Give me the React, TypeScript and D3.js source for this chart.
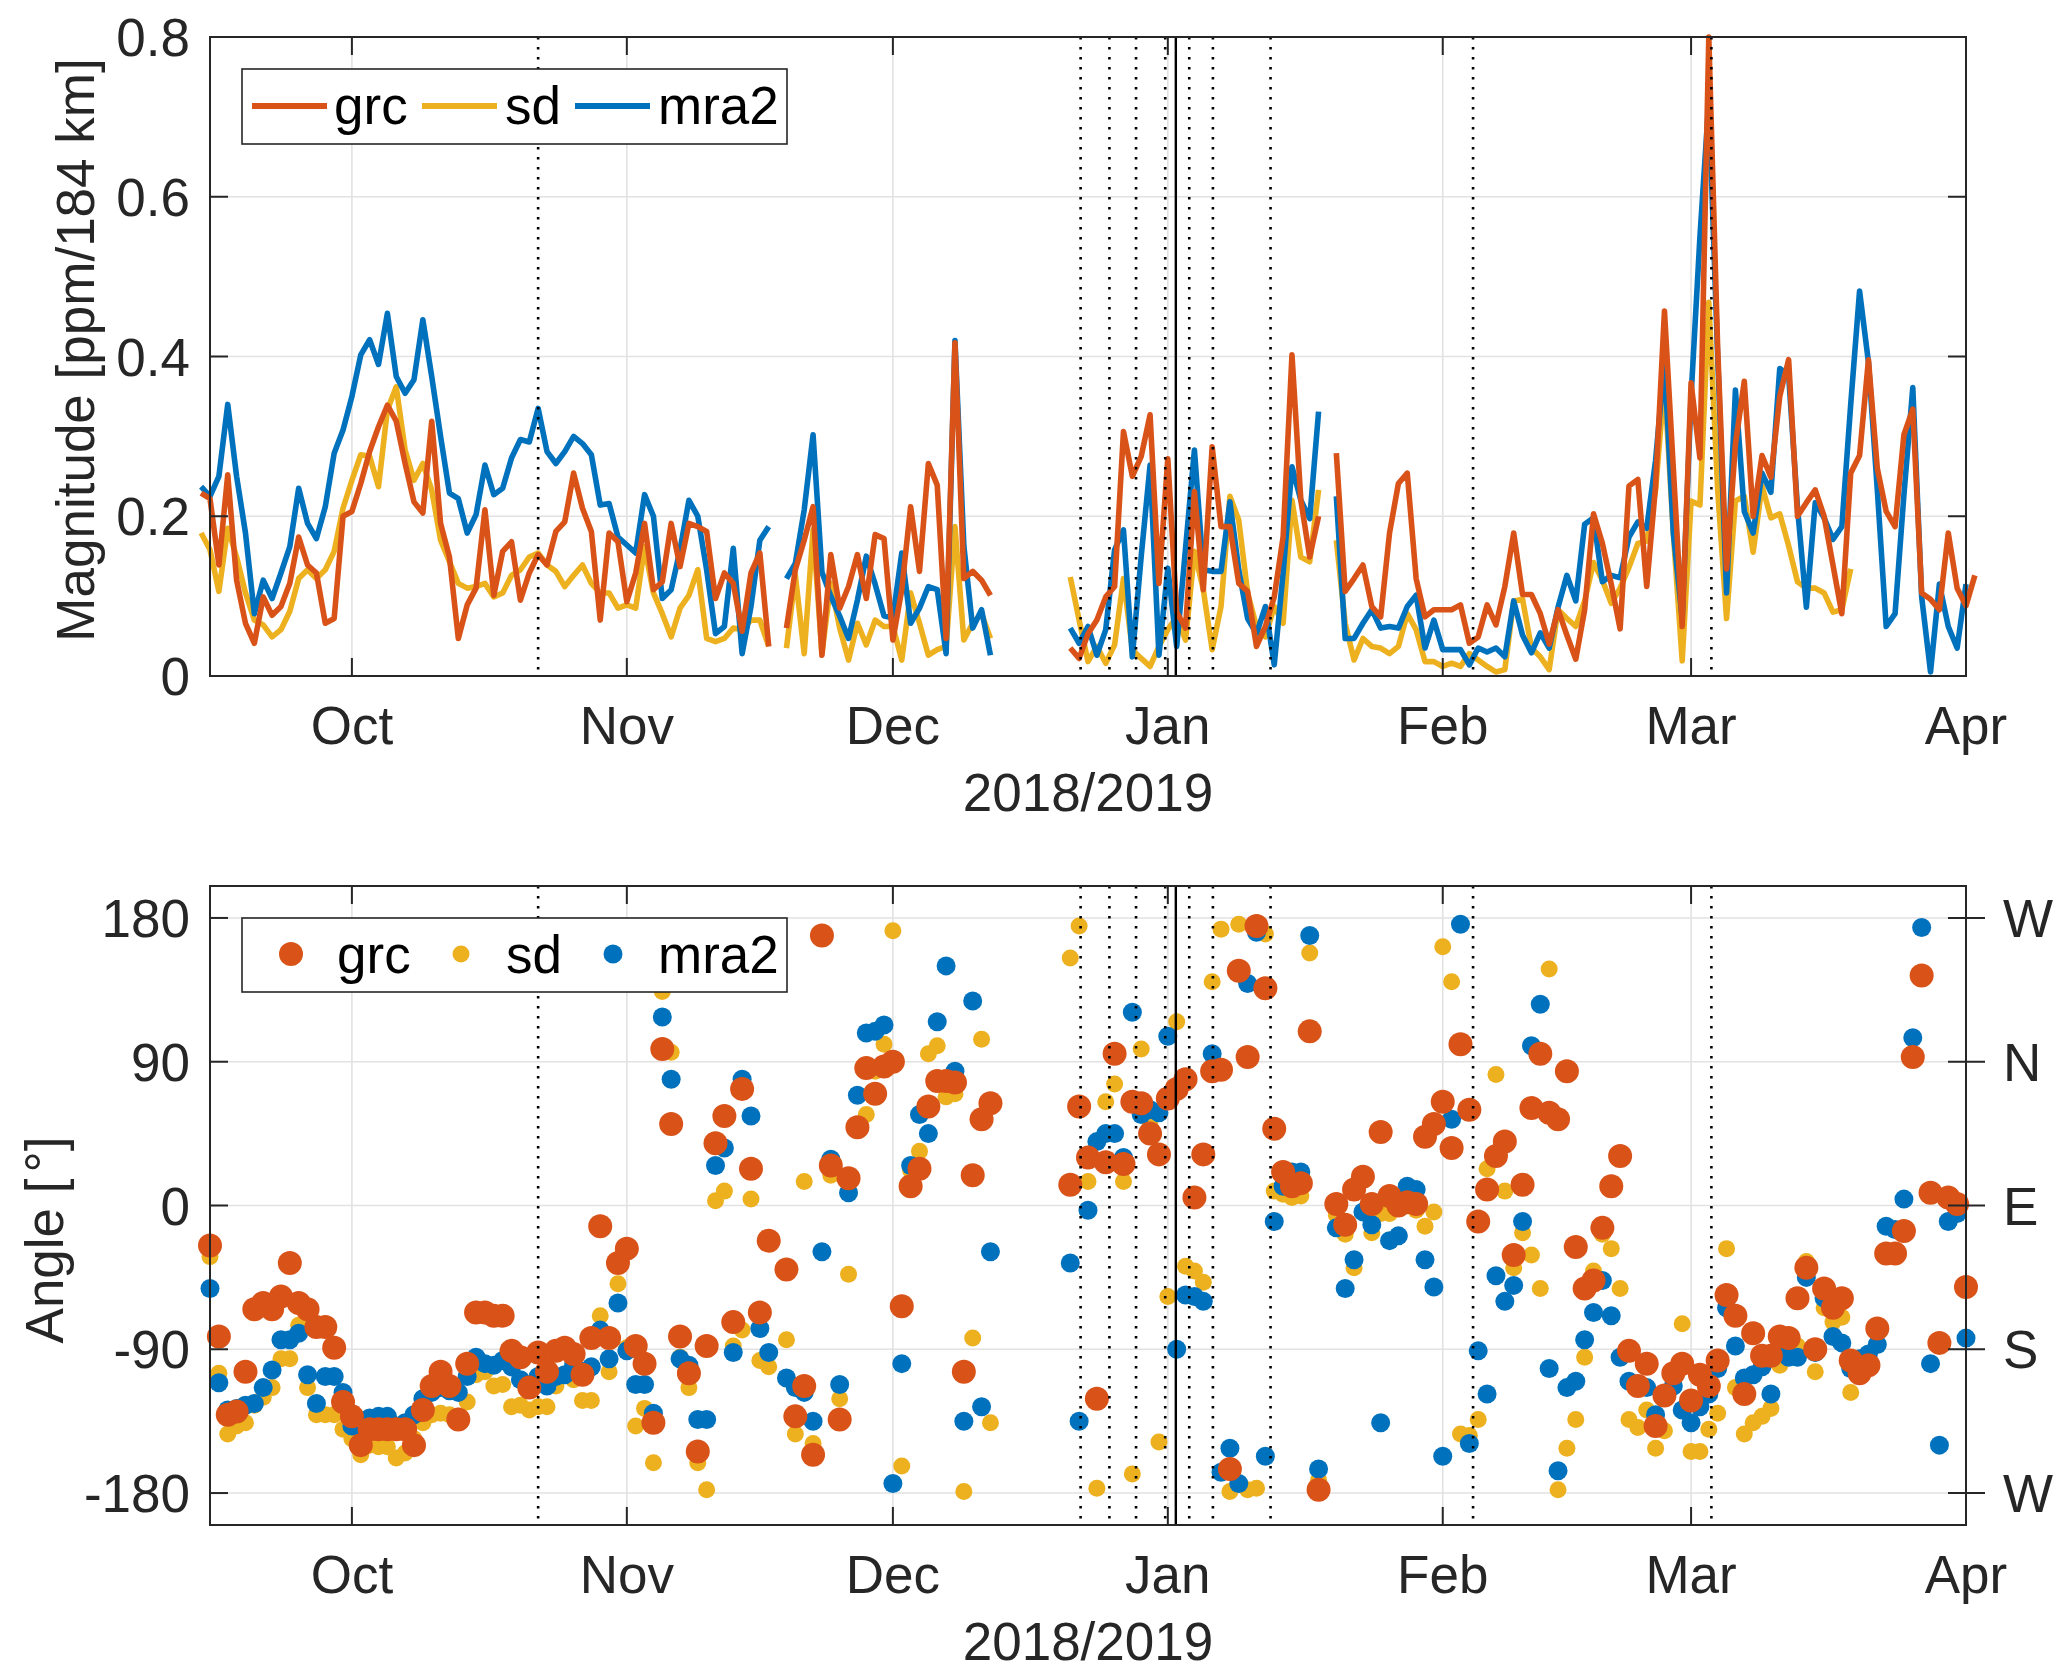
import * as d3 from "d3";

// daily values, first entry = 2018-09-14 (null = no data)
const firstDay = "2018-09-14T00:00:00Z";

// magnitude [ppm/184 km]
const grcMag = [
  0.229, 0.222, 0.139, 0.252, 0.12, 0.066, 0.041, 0.099, 0.076, 0.087, 0.116, 0.174, 0.139, 0.129, 0.066, 0.072, 0.2,
  0.206, 0.241, 0.281, 0.312, 0.339, 0.319, 0.266, 0.218, 0.204, 0.319, 0.191, 0.149, 0.047, 0.089, 0.11, 0.208,
  0.101, 0.156, 0.168, 0.095, 0.129, 0.152, 0.139, 0.181, 0.193, 0.254, 0.21, 0.181, 0.07, 0.179, 0.168,
  0.093, 0.129, 0.191, 0.108, 0.118, 0.191, 0.137, 0.191, 0.187, 0.181, 0.097, 0.129, 0.116, 0.056, 0.129, 0.154,
  0.037, null, 0.06, 0.133, 0.17, 0.212, 0.026, 0.152, 0.085, 0.112, 0.152, 0.097, 0.177, 0.172,
  0.045, 0.108, 0.212, 0.131, 0.266, 0.239, 0.047, 0.417, 0.122, 0.131, 0.12, 0.101,
  null, null, null, null, null, null, null, null,
  0.035, 0.022, 0.053, 0.07, 0.099, 0.112, 0.306, 0.25, 0.275, 0.327, 0.116,
  0.272, 0.08, 0.06, 0.231, 0.108, 0.287, 0.187, 0.187, 0.116, 0.106, 0.037, 0.062, 0.099, 0.174, 0.402, 0.22,
  0.149, 0.2, null, 0.279, 0.106, 0.122, 0.139, 0.087, 0.074, 0.179, 0.241, 0.254, 0.122, 0.074, 0.083,
  0.083, 0.083, 0.089, 0.041, 0.049, 0.089, 0.064, 0.112, 0.179, 0.102, 0.102, 0.078, 0.04, 0.083, 0.051, 0.021,
  0.083, 0.203, 0.166, 0.115, 0.059, 0.238, 0.246, 0.112, 0.238, 0.457, 0.26, 0.062,
  0.367, 0.273, 0.8, 0.41, 0.134, 0.29, 0.369, 0.2, 0.276, 0.249, 0.35, 0.396, 0.2, 0.217, 0.233, 0.2,
  0.139, 0.078, 0.254, 0.276, 0.396, 0.26, 0.206, 0.187, 0.302, 0.334, 0.104, 0.096, 0.083, 0.179, 0.11,
  0.088, 0.126,
];

const sdMag = [
  0.179, 0.158, 0.106, 0.185, 0.149, 0.104, 0.07, 0.064, 0.049, 0.058, 0.081, 0.122, 0.133, 0.122, 0.133, 0.156, 0.21,
  0.245, 0.277, 0.275, 0.237, 0.333, 0.362, 0.283, 0.245, 0.266, 0.233, 0.17, 0.143, 0.116, 0.11, 0.112, 0.116,
  0.099, 0.104, 0.126, 0.133, 0.149, 0.154, 0.139, 0.131, 0.112, 0.126, 0.139, 0.116, 0.104, 0.104, 0.085,
  0.089, 0.085, 0.162, 0.104, 0.078, 0.049, 0.085, 0.101, 0.133, 0.047, 0.043, 0.047, 0.06, 0.058, 0.07, 0.07,
  0.037, null, 0.035, 0.126, 0.028, 0.183, 0.028, 0.116, 0.06, 0.02, 0.066, 0.039, 0.07, 0.062,
  0.062, 0.02, 0.104, 0.066, 0.026, 0.033, 0.037, 0.187, 0.045, 0.066, 0.078, 0.047,
  null, null, null, null, null, null, null, null,
  0.124, 0.07, 0.018, 0.037, 0.016, 0.039, 0.122, 0.033, 0.022, 0.012, 0.037,
  0.058, 0.074, 0.045, 0.156, 0.108, 0.033, 0.087, 0.225, 0.195, 0.104, 0.062, 0.049, 0.087, 0.066, 0.22, 0.149,
  0.143, 0.233, null, 0.17, 0.066, 0.02, 0.047, 0.037, 0.035, 0.028, 0.037, 0.078, 0.058, 0.018, 0.018,
  0.012, 0.016, 0.012, 0.028, 0.02, 0.012, 0.005, 0.008, 0.094, 0.096, 0.035, 0.024, 0.008, 0.083, 0.072, 0.062,
  0.094, 0.142, 0.12, 0.091, 0.11, 0.136, 0.166, 0.169, 0.233, 0.367, 0.179, 0.019,
  0.219, 0.214, 0.468, 0.233, 0.072, 0.219, 0.225, 0.155, 0.238, 0.198, 0.203, 0.163, 0.118, 0.11, 0.11, 0.104,
  0.08, 0.083, 0.134, null, null, null, null, null, null, null, null, null, null, null, null,
  null, null,
];

const mra2Mag = [
  0.237, 0.225, 0.25, 0.34, 0.25, 0.179, 0.078, 0.12, 0.097, 0.129, 0.162, 0.235, 0.191, 0.172, 0.212, 0.279, 0.308,
  0.35, 0.402, 0.421, 0.39, 0.454, 0.375, 0.354, 0.371, 0.446, 0.375, 0.3, 0.229, 0.222, 0.179, 0.202, 0.264,
  0.227, 0.235, 0.273, 0.296, 0.293, 0.335, 0.281, 0.266, 0.281, 0.3, 0.291, 0.277, 0.214, 0.216, 0.174,
  0.164, 0.154, 0.227, 0.2, 0.097, 0.108, 0.158, 0.22, 0.2, 0.133, 0.053, 0.062, 0.16, 0.028, 0.087, 0.17,
  0.187, null, 0.122, 0.141, 0.208, 0.302, 0.13, 0.1, 0.075, 0.047, 0.095, 0.15, 0.115, 0.075,
  0.073, 0.154, 0.066, 0.085, 0.112, 0.108, 0.028, 0.42, 0.163, 0.06, 0.083, 0.026,
  null, null, null, null, null, null, null, null,
  0.06, 0.041, 0.062, 0.026, 0.058, 0.158, 0.183, 0.024, 0.15, 0.264, 0.026,
  0.135, 0.037, 0.16, 0.283, 0.133, 0.131, 0.131, 0.218, 0.133, 0.072, 0.053, 0.087, 0.014, 0.129, 0.262, 0.22,
  0.197, 0.331, null, 0.225, 0.047, 0.047, 0.066, 0.083, 0.06, 0.062, 0.06, 0.087, 0.101, 0.035, 0.07,
  0.033, 0.033, 0.033, 0.014, 0.035, 0.03, 0.035, 0.024, 0.094, 0.051, 0.029, 0.054, 0.035, 0.086, 0.126, 0.094,
  0.19, 0.198, 0.118, 0.126, 0.123, 0.174, 0.193, 0.185, 0.27, 0.393, 0.179, 0.072,
  0.35, 0.55, 0.72, 0.4, 0.104, 0.358, 0.206, 0.179, 0.254, 0.23, 0.385, 0.377, 0.211, 0.086, 0.217, 0.198,
  0.171, 0.187, 0.34, 0.482, 0.393, 0.233, 0.062, 0.078, 0.227, 0.361, 0.099, 0.005, 0.115, 0.062, 0.035,
  0.115, null,
];

// angle [deg]
const grcAng = [
  null,
  -25, -82, -131, -129, -104, -65, -61, -65, -57, -36, -61, -65, -76, -76, -89, -123,
  -132, -150, -140, -140, -140, -140, -140, -150, -128, -113, -104, -113, -134, -99, -67, -67,
  -69, -69, -91, -95, -114, -92, -104, -91, -89, -93, -106, -83, -13, -83, -36,
  -27, -88, -99, -136, 98, 51, -82, -105, -154, -88, 39, 56, -73, 73, 23, -67,
  -22, null, -40, -132, -113, -156, 169, 25, -134, 17, 49, 86, 70, 87,
  90, -63, 12, 23, 62, 78, 78, 77, -104, 19, 54, 64,
  null, null, null, null, null, null, null, null,
  13, 62, 30, -121, 27, 95, 26, 65, 64, 45, 32,
  67, 73, 79, 5, 32, 84, 85, -165, 147, 93, 175, 136, 48, 21, 12, 14,
  109, -178, null, 1, -12, 10, 18, 1, 46, 6, 0, 2, 1, 43, 51,
  65, 36, 101, 60, -10, 10, 31, 40, -31, 13, 61, 95, 58, 54, 84, -26,
  -52, -47, -14, 12, 31, -91, -113, -99, -138, -119, -105, -99,
  -122, -106, -113, -97, -56, -69, -118, -80, -94, -94, -82, -83, -58, -39, -90, -52,
  -64, -58, -97, -105, -100, -77, -30, -30, -16, 93, 144, 8, -86, 5, 1,
  -51, null,
];

const sdAng = [
  null,
  -32, -105, -143, -138, -136, -125, -120, -114, -96, -96, -75, -114, -131, -131, -131, -140,
  -146, -156, -150, -151, -151, -158, -155, -146, -136, -131, -130, -131, -132, -123, -106, -104,
  -113, -112, -126, -125, -128, -126, -126, -113, -106, -109, -122, -122, -69, -104, -49,
  -89, -138, -127, -161, 134, 96, -95, -114, -161, -178, 3, 9, -88, -78, 4, -97,
  -101, null, -84, -143, 15, -149, 170, 19, -121, -43, 50, 57, 84, 101,
  172, -163, 22, 34, 95, 100, 68, 70, -179, -83, 104, -136,
  null, null, null, null, null, null, null, null,
  155, 175, 15, -177, 65, 76, 15, -168, 98, 50, -148,
  -57, 115, -38, -41, -48, 140, 173, -179, 176, -178, -177, 170, 9, 7, 5, 6,
  158, -172, null, -6, -18, -39, -4, -17, -5, -5, 3, 0, -3, -13, -4,
  162, 140, -143, -144, -134, 23, 82, 9, -39, -17, -31, -52, 148, -178, -152, -134,
  -95, -41, -18, -27, -52, -134, -139, -128, -152, -141, -105, -74,
  -154, -154, -140, -130, -27, -114, -143, -136, -132, -127, -100, -95, -88, -35, -104, -64,
  -73, -70, -117, null, null, null, null, null, null, null, null, null, null, null, null,
  null, null,
];

const mra2Ang = [
  null,
  -52, -111, -128, -127, -125, -124, -114, -103, -84, -84, -80, -106, -124, -107, -107, -117,
  -138, -138, -133, -132, -132, -138, -136, -131, -121, -117, -114, -116, -117, -107, -95, -99,
  -100, -97, -101, -109, -113, -107, -113, -107, -106, -100, -104, -101, -78, -96, -61,
  -91, -112, -112, -130, 118, 79, -96, -100, -134, -134, 25, 36, -92, 79, 56, -77,
  -92, null, -108, -114, -117, -135, -29, 29, -112, 8, 69, 108, 109, 113,
  -174, -99, 25, 57, 45, 115, 150, 84, -135, 128, -126, -29,
  null, null, null, null, null, null, null, null,
  -36, -135, -3, 40, 45, 45, 30, 121, 57, 60, 58,
  106, -90, -56, -57, -60, 95, -167, -152, -174, 139, 171, -157, -10, 12, 21, 21,
  169, -165, null, -14, -52, -34, -4, -12, -136, -22, -19, 12, 10, -34, -51,
  -157, 54, 176, -149, -91, -118, -44, -60, -50, -10, 100, 126, -102, -166, -114, -110,
  -84, -67, -47, -69, -95, -110, -114, -114, -131, -120, -113, -128,
  -136, -126, -118, -102, -64, -88, -108, -106, -101, -118, -92, -95, -95, -45, -92, -58,
  -82, -86, -102, -96, -93, -87, -13, -15, 4, 105, 174, -99, -150, -10, -5,
  -83, null,
];

const monthTicks = [
  "2018-10-01", "2018-11-01", "2018-12-01", "2019-01-01", "2019-02-01", "2019-03-01", "2019-04-01",
];
const magTicks = [0, 0.2, 0.4, 0.6, 0.8];
const angleTicks = [-180, -90, 0, 90, 180];
const compassLabels = ["W", "S", "E", "N", "W"];

// event markers
const dottedEvents = [
  "2018-10-22T00:00:00Z", "2018-12-22T04:00:00Z", "2018-12-25T10:00:00Z", "2018-12-28T10:00:00Z",
  "2018-12-31T17:00:00Z", "2019-01-03T10:00:00Z", "2019-01-06T02:00:00Z", "2019-01-12T14:00:00Z",
  "2019-02-04T10:00:00Z", "2019-03-03T07:00:00Z",
];
const solidEvents = ["2019-01-01T21:40:00Z"];

const W = 2067;
const H = 1679;
const FONT = "'Liberation Sans', Arial, Helvetica, sans-serif";
const INK = "#262626";
const GRID = "#e2e2e2";
const FS = 53;
const TICK = 18;

const X0 = 210;
const X1 = 1966;
const x = d3
  .scaleUtc()
  .domain([new Date("2018-09-15T00:00:00Z"), new Date("2019-04-01T00:00:00Z")])
  .range([X0, X1]);

const yMag = d3.scaleLinear().domain([0, 0.8]).range([676, 37]);
const yAng = d3.scaleLinear().domain([-200, 200]).range([1525, 886]);

const t0 = new Date(firstDay).getTime();
const dayAt = (i: number) => new Date(t0 + i * 864e5);
const monthFmt = d3.utcFormat("%b");

const series = [
  { name: "grc", color: "#D95319", mag: grcMag, ang: grcAng, r: 12 },
  { name: "sd", color: "#EDB120", mag: sdMag, ang: sdAng, r: 8.5 },
  { name: "mra2", color: "#0072BD", mag: mra2Mag, ang: mra2Ang, r: 9.5 },
];
// plotting order: sd under mra2 under grc
const drawOrder = ["sd", "mra2", "grc"].map((n) => series.find((s) => s.name === n)!);

const magLine = d3
  .line<number | null>()
  .defined((v) => v != null)
  .x((_, i) => x(dayAt(i)))
  .y((v) => yMag(v as number));

function Frame({
  y,
  ticks,
  fmt,
  right,
  children,
}: {
  y: d3.ScaleLinear<number, number>;
  ticks: number[];
  fmt: (v: number, i: number) => string;
  right?: string[];
  children?: any;
}) {
  const [yb, yt] = y.range();
  return (
    <g>
      {/* grid */}
      {monthTicks.map((m) => (
        <line key={m} x1={x(new Date(m))} x2={x(new Date(m))} y1={yt} y2={yb} stroke={GRID} strokeWidth={1.6} />
      ))}
      {ticks.map((t) => (
        <line key={t} x1={X0} x2={X1} y1={y(t)} y2={y(t)} stroke={GRID} strokeWidth={1.6} />
      ))}

      {children}

      {/* event lines */}
      {dottedEvents.map((e) => (
        <line
          key={e}
          x1={x(new Date(e))}
          x2={x(new Date(e))}
          y1={yt}
          y2={yb}
          stroke="#000"
          strokeWidth={2.6}
          strokeDasharray="2.6 7.4"
        />
      ))}
      {solidEvents.map((e) => (
        <line key={e} x1={x(new Date(e))} x2={x(new Date(e))} y1={yt} y2={yb} stroke="#000" strokeWidth={2.4} />
      ))}

      {/* box + ticks */}
      <rect x={X0} y={yt} width={X1 - X0} height={yb - yt} fill="none" stroke={INK} strokeWidth={2} />
      {monthTicks.map((m) => {
        const xx = x(new Date(m));
        return (
          <g key={m}>
            <line x1={xx} x2={xx} y1={yb} y2={yb - TICK} stroke={INK} strokeWidth={2} />
            <line x1={xx} x2={xx} y1={yt} y2={yt + TICK} stroke={INK} strokeWidth={2} />
            <text x={xx} y={yb + 68} textAnchor="middle" fontSize={FS} fill={INK}>
              {monthFmt(new Date(m))}
            </text>
          </g>
        );
      })}
      {ticks.map((t, i) => (
        <g key={t}>
          <line x1={X0} x2={X0 + TICK} y1={y(t)} y2={y(t)} stroke={INK} strokeWidth={2} />
          <line
            x1={X1 - TICK}
            x2={right ? X1 + TICK + 1 : X1}
            y1={y(t)}
            y2={y(t)}
            stroke={INK}
            strokeWidth={2}
          />
          <text x={190} y={y(t)} dy="0.36em" textAnchor="end" fontSize={FS} fill={INK}>
            {fmt(t, i)}
          </text>
          {right && (
            <text x={2003} y={y(t)} dy="0.36em" textAnchor="start" fontSize={FS} fill={INK}>
              {right[i]}
            </text>
          )}
        </g>
      ))}
      <text x={(X0 + X1) / 2} y={yb + 135} textAnchor="middle" fontSize={FS} fill={INK}>
        2018/2019
      </text>
    </g>
  );
}

export default function App() {
  return (
    <div style={{ position: "absolute", left: 0, top: 0 }}>
      <svg width={W} height={H} viewBox={`0 0 ${W} ${H}`} fontFamily={FONT} style={{ display: "block", background: "#fff" }}>
        <rect width={W} height={H} fill="#fff" />

        {/* top panel: magnitude */}
        <Frame y={yMag} ticks={magTicks} fmt={(v) => (v === 0 ? "0" : d3.format(".1f")(v))}>
          {drawOrder.map((s) => (
            <path
              key={s.name}
              d={magLine(s.mag) ?? ""}
              fill="none"
              stroke={s.color}
              strokeWidth={5.6}
              strokeLinejoin="round"
            />
          ))}
        </Frame>
        <text transform="translate(94,350) rotate(-90)" textAnchor="middle" fontSize={FS} fill={INK}>
          Magnitude [ppm/184 km]
        </text>
        <g>
          <rect x={242} y={69} width={545} height={75} fill="#fff" stroke={INK} strokeWidth={1.6} />
          {[
            { s: series[0], lx: 252, tx: 334 },
            { s: series[1], lx: 422, tx: 505 },
            { s: series[2], lx: 575, tx: 658 },
          ].map(({ s, lx, tx }) => (
            <g key={s.name}>
              <line x1={lx} x2={lx + 75} y1={106} y2={106} stroke={s.color} strokeWidth={6} />
              <text x={tx} y={124} fontSize={FS} fill="#000">
                {s.name}
              </text>
            </g>
          ))}
        </g>

        {/* bottom panel: angle */}
        <Frame y={yAng} ticks={angleTicks} fmt={(v) => String(v)} right={compassLabels}>
          {drawOrder.map((s) => (
            <g key={s.name} fill={s.color}>
              {s.ang.map((v, i) =>
                v == null ? null : <circle key={i} cx={x(dayAt(i))} cy={yAng(v)} r={s.r} />
              )}
            </g>
          ))}
        </Frame>
        <text transform="translate(63,1240) rotate(-90)" textAnchor="middle" fontSize={FS} fill={INK}>
          Angle [<tspan dx={6}>°</tspan>]
        </text>
        <g>
          <rect x={242} y={918} width={545} height={74} fill="#fff" stroke={INK} strokeWidth={1.6} />
          {[
            { s: series[0], mx: 291, tx: 337 },
            { s: series[1], mx: 461, tx: 506 },
            { s: series[2], mx: 613, tx: 658 },
          ].map(({ s, mx, tx }) => (
            <g key={s.name}>
              <circle cx={mx} cy={954} r={s.r} fill={s.color} />
              <text x={tx} y={973} fontSize={FS} fill="#000">
                {s.name}
              </text>
            </g>
          ))}
        </g>
      </svg>
    </div>
  );
}
